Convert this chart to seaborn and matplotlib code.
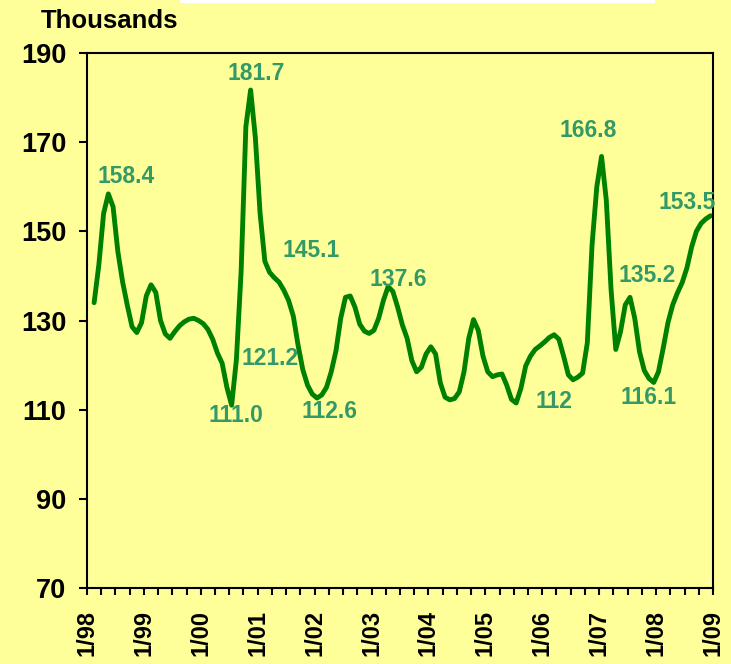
import pandas as pd
import seaborn as sns
import matplotlib.pyplot as plt
from matplotlib.patches import Rectangle
from matplotlib.ticker import MultipleLocator, FixedLocator

# monthly values, thousands, Feb 1998 .. Dec 2008
start_month = "1998-02"
end_month = "2008-12"
values = [
    134.0, 142.5, 154.0, 158.4, 155.5, 145.5, 138.7, 133.4, 128.6, 127.3, 129.5,  # 1998
    135.5, 138.0, 136.3, 130.0, 127.0, 126.0, 127.5, 128.8, 129.7, 130.3, 130.5, 130.0,  # 1999
    129.3, 128.0, 125.8, 122.7, 120.4, 115.0, 111.0, 121.2, 141.0, 173.5, 181.7, 171.0,  # 2000
    154.0, 143.3, 140.8, 139.6, 138.6, 136.8, 134.5, 131.0, 124.5, 119.0, 115.5, 113.5,  # 2001
    112.6, 113.3, 115.0, 118.5, 123.2, 130.5, 135.2, 135.5, 133.0, 129.2, 127.6, 127.1,  # 2002
    127.8, 130.5, 134.5, 137.6, 136.5, 133.0, 129.0, 126.0, 121.0, 118.5, 119.5, 122.5,  # 2003
    124.1, 122.5, 116.0, 112.8, 112.2, 112.5, 114.0, 118.5, 126.0, 130.2, 127.8, 122.0,  # 2004
    118.5, 117.4, 117.8, 118.0, 115.5, 112.3, 111.5, 114.8, 119.8, 122.0, 123.5, 124.3,  # 2005
    125.2, 126.2, 126.8, 125.8, 122.0, 117.8, 116.7, 117.3, 118.2, 125.0, 147.0, 160.0,  # 2006
    166.8, 157.0, 137.0, 123.5, 127.5, 133.5, 135.2, 130.5, 123.0, 118.8, 117.0, 116.1,  # 2007
    118.5, 123.8, 129.5, 133.5, 136.2, 138.5, 141.8, 146.5, 150.0, 151.8, 152.8, 153.5,  # 2008
]

label_texts = ["158.4", "181.7", "145.1", "121.2", "111.0", "112.6",
               "137.6", "112", "166.8", "135.2", "116.1", "153.5"]
label_x = [1998.685, 2000.967, 2001.933, 2001.217, 2000.617, 2002.267,
           2003.467, 2006.208, 2006.804, 2007.842, 2007.875, 2008.542]
label_y = [162.4, 185.5, 145.6, 121.4, 108.6, 109.5,
           139.3, 111.9, 172.6, 140.2, 112.8, 156.4]

years = list(range(1998, 2010))
year_labels = [f"1/{y % 100:02d}" for y in years]
y_ticks = list(range(70, 191, 20))

months = pd.date_range(start_month, end_month, freq="MS")
df = pd.DataFrame({
    "x": months.year + (months.month - 0.5) / 12,
    "value": values,
})

bg = "#FFFF99"
line_green = "#008000"
label_green = "#339966"

sns.set_style("ticks")
plt.rcParams["font.family"] = ["Liberation Sans", "DejaVu Sans"]
plt.rcParams["font.weight"] = "bold"
plt.rcParams["text.color"] = "black"
plt.rcParams["xtick.color"] = "black"
plt.rcParams["ytick.color"] = "black"

fig = plt.figure(figsize=(7.31, 6.64), dpi=100, facecolor=bg)
ax = fig.add_axes([87 / 731, 1 - 588 / 664, 626 / 731, 535 / 664])
ax.set_facecolor(bg)

sns.lineplot(data=df, x="x", y="value", ax=ax, color=line_green,
             linewidth=3.5, solid_joinstyle="round", solid_capstyle="round")

for t, lx, ly in zip(label_texts, label_x, label_y):
    ax.text(lx, ly, t, color=label_green, fontsize=16.5, fontweight="bold",
            ha="center", va="center")

ax.set_xlim(1998, 2009)
ax.set_ylim(70, 190)
ax.yaxis.set_major_locator(FixedLocator(y_ticks))
ax.xaxis.set_major_locator(FixedLocator(years))
ax.xaxis.set_minor_locator(MultipleLocator(0.25))
ax.set_xticklabels(year_labels, rotation=90)
ax.set_xlabel("")
ax.set_ylabel("")

for s in ax.spines.values():
    s.set_visible(True)
    s.set_linewidth(1.5)
    s.set_color("black")

ax.tick_params(axis="y", length=6, width=1.5, pad=9, labelsize=19.5)
ax.tick_params(axis="x", which="major", length=5, width=1.5, pad=11, labelsize=17)
ax.tick_params(axis="x", which="minor", length=5, width=1.5, bottom=True)

fig.text(41 / 731, 1 - 28 / 664, "Thousands", fontsize=18.5, fontweight="bold",
         ha="left", va="baseline")
fig.patches.append(Rectangle((180 / 731, 1 - 3 / 664), 475 / 731, 3 / 664,
                             transform=fig.transFigure, facecolor="white",
                             edgecolor="none"))

fig.savefig("out.png", dpi=100, facecolor=bg)
